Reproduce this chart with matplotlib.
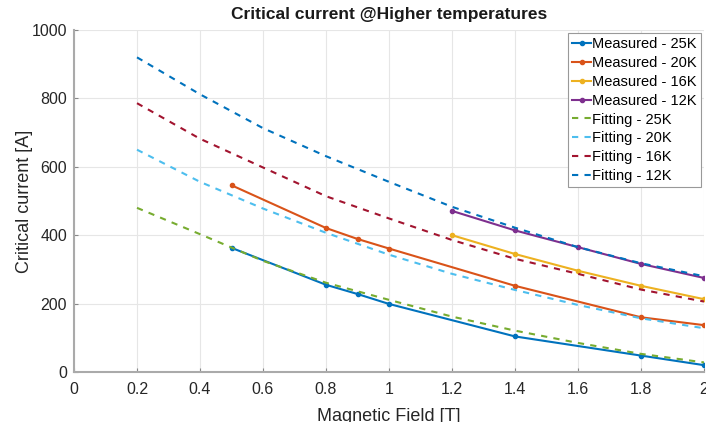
import numpy as np
import matplotlib
matplotlib.use('Agg')
import matplotlib.pyplot as plt

plt.rcParams['font.family'] = ['Liberation Sans', 'DejaVu Sans']

# measured critical current
b_meas_hi = [0.5, 0.8, 0.9, 1.0, 1.4, 1.8, 2.0]
ic_25k = [363, 255, 228, 199, 104, 48, 20]
ic_20k = [546, 421, 389, 361, 252, 160, 137]
b_meas_lo = [1.2, 1.4, 1.6, 1.8, 2.0]
ic_16k = [400, 345, 296, 252, 213]
ic_12k = [471, 414, 365, 316, 275]

# fitted curves
b_fit = [0.2, 0.4, 0.6, 0.8, 1.0, 1.2, 1.4, 1.6, 1.8, 2.0]
fit_25k = [480, 403, 325, 261, 211, 162, 121, 85, 53, 28]
fit_20k = [650, 556, 478, 407, 343, 287, 240, 196, 157, 128]
fit_16k = [786, 682, 598, 514, 449, 386, 331, 287, 241, 206]
fit_12k = [920, 812, 713, 631, 556, 483, 422, 365, 318, 280]

c_blue = '#0072BD'
c_orange = '#D95319'
c_yellow = '#EDB120'
c_purple = '#7E2F8E'
c_green = '#77AC30'
c_lblue = '#4DBEEE'
c_red = '#A2142F'

fig = plt.figure(figsize=(7.06, 4.22), dpi=100)
ax = fig.add_axes([74 / 706, 50 / 422, 630 / 706, 342 / 422])

mk = dict(marker='.', markersize=6, linewidth=1.5)
ax.plot(b_meas_hi, ic_25k, color=c_blue, label='Measured - 25K', **mk)
ax.plot(b_meas_hi, ic_20k, color=c_orange, label='Measured - 20K', **mk)
ax.plot(b_meas_lo, ic_16k, color=c_yellow, label='Measured - 16K', **mk)
ax.plot(b_meas_lo, ic_12k, color=c_purple, label='Measured - 12K', **mk)

ds = dict(linestyle=(0, (3, 3)), linewidth=1.5)
ax.plot(b_fit, fit_25k, color=c_green, label='Fitting - 25K', **ds)
ax.plot(b_fit, fit_20k, color=c_lblue, label='Fitting - 20K', **ds)
ax.plot(b_fit, fit_16k, color=c_red, label='Fitting - 16K', **ds)
ax.plot(b_fit, fit_12k, color=c_blue, label='Fitting - 12K', **ds)

ax.set_xlim(0, 2)
ax.set_ylim(0, 1000)
xt = np.round(np.arange(0, 2.01, 0.2), 1)
ax.set_xticks(xt)
ax.set_xticklabels([('%g' % v) for v in xt])
ax.set_yticks(range(0, 1001, 200))
ax.tick_params(direction='in', length=3, labelsize=11.5, colors='#262626',
               color='#888888')
ax.tick_params(axis='x', pad=7)
ax.tick_params(axis='y', pad=5)
ax.grid(True, color='#e6e6e6', linewidth=0.8)
ax.set_axisbelow(True)
for s in ['top', 'right']:
    ax.spines[s].set_visible(False)
for s in ['left', 'bottom']:
    ax.spines[s].set_color('#aaaaaa')
    ax.spines[s].set_linewidth(1.5)

ax.set_xlabel('Magnetic Field [T]', fontsize=13, color='#262626', labelpad=8)
ax.set_ylabel('Critical current [A]', fontsize=13, color='#262626', labelpad=-1)
ax.set_title('Critical current @Higher temperatures', fontsize=12.5,
             fontweight='bold', color='#1a1a1a', pad=8)

leg = ax.legend(loc='upper right', fontsize=10.5, labelspacing=0.33,
                handlelength=1.25, handletextpad=0.1, borderpad=0.3,
                borderaxespad=0.2, fancybox=False, framealpha=1,
                edgecolor='#999999')
leg.get_frame().set_linewidth(0.8)

fig.savefig('out.png', dpi=100)
